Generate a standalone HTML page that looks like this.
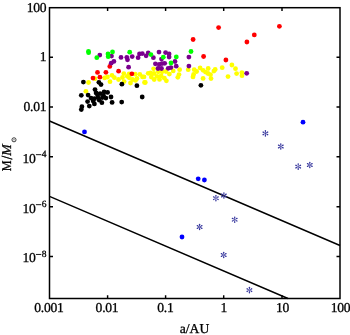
<!DOCTYPE html>
<html><head><meta charset="utf-8"><style>
html,body{margin:0;padding:0;background:#fff;width:350px;height:335px;overflow:hidden}
svg{display:block;will-change:transform;text-rendering:geometricPrecision}
svg{font-family:"Liberation Serif",serif;font-size:13.6px;letter-spacing:-0.25px}
text{stroke:#000;stroke-width:0.3px}
</style></head><body>
<svg width="350" height="335" viewBox="0 0 350 335">
<g fill="none" stroke="#000" stroke-width="1.5">
<rect x="49.5" y="7.7" width="290.5" height="290.8"/>
<path d="M107.6 298.5V295.3M107.6 7.7V10.9M165.6 298.5V295.3M165.6 7.7V10.9M223.7 298.5V295.3M223.7 7.7V10.9M282.0 298.5V295.3M282.0 7.7V10.9M49.5 57.3H53.0M340.0 57.3H336.5M49.5 107.0H53.0M340.0 107.0H336.5M49.5 156.8H53.0M340.0 156.8H336.5M49.5 206.8H53.0M340.0 206.8H336.5M49.5 256.5H53.0M340.0 256.5H336.5" stroke-width="1.45"/>
<path d="M49.5 121.0L340.0 245.50M49.5 196.3L287.97 298.5" stroke-width="1.4"/>
</g>
<circle cx="112" cy="75.3" r="2.4" fill="#ffff00"/><circle cx="114.4" cy="77.7" r="2.4" fill="#ffff00"/><circle cx="118.5" cy="79.5" r="2.4" fill="#ffff00"/><circle cx="123.8" cy="73.6" r="2.4" fill="#ffff00"/><circle cx="122.5" cy="77.5" r="2.4" fill="#ffff00"/><circle cx="127.3" cy="76.3" r="2.4" fill="#ffff00"/><circle cx="129.3" cy="77.8" r="2.4" fill="#ffff00"/><circle cx="129.1" cy="73.9" r="2.4" fill="#ffff00"/><circle cx="135.2" cy="74.2" r="2.4" fill="#ffff00"/><circle cx="137" cy="78.5" r="2.4" fill="#ffff00"/><circle cx="139.8" cy="74.3" r="2.4" fill="#ffff00"/><circle cx="142.5" cy="76.9" r="2.4" fill="#ffff00"/><circle cx="148.2" cy="73.3" r="2.4" fill="#ffff00"/><circle cx="135.5" cy="80.4" r="2.4" fill="#ffff00"/><circle cx="130.5" cy="83" r="2.4" fill="#ffff00"/><circle cx="124.1" cy="81.6" r="2.4" fill="#ffff00"/><circle cx="110" cy="81.7" r="2.4" fill="#ffff00"/><circle cx="144.5" cy="82.4" r="2.4" fill="#ffff00"/><circle cx="107.5" cy="77" r="2.4" fill="#ffff00"/><circle cx="104.6" cy="77.9" r="2.4" fill="#ffff00"/><circle cx="95" cy="78.7" r="2.4" fill="#ffff00"/><circle cx="88.5" cy="82.5" r="2.4" fill="#ffff00"/><circle cx="85.9" cy="91.3" r="2.4" fill="#ffff00"/><circle cx="153.6" cy="68.8" r="2.4" fill="#ffff00"/><circle cx="150.5" cy="72.9" r="2.4" fill="#ffff00"/><circle cx="154" cy="73.5" r="2.4" fill="#ffff00"/><circle cx="158.3" cy="71.8" r="2.4" fill="#ffff00"/><circle cx="162" cy="71.8" r="2.4" fill="#ffff00"/><circle cx="166" cy="71.5" r="2.4" fill="#ffff00"/><circle cx="169.4" cy="74.1" r="2.4" fill="#ffff00"/><circle cx="173.2" cy="70.9" r="2.4" fill="#ffff00"/><circle cx="179.6" cy="69.7" r="2.4" fill="#ffff00"/><circle cx="179" cy="74.6" r="2.4" fill="#ffff00"/><circle cx="177.8" cy="77.3" r="2.4" fill="#ffff00"/><circle cx="151.3" cy="77" r="2.4" fill="#ffff00"/><circle cx="157" cy="76.4" r="2.4" fill="#ffff00"/><circle cx="161.2" cy="75.9" r="2.4" fill="#ffff00"/><circle cx="164.4" cy="78.2" r="2.4" fill="#ffff00"/><circle cx="154.2" cy="79.5" r="2.4" fill="#ffff00"/><circle cx="159.5" cy="79.4" r="2.4" fill="#ffff00"/><circle cx="166.4" cy="80.8" r="2.4" fill="#ffff00"/><circle cx="144" cy="76.9" r="2.4" fill="#ffff00"/><circle cx="145.3" cy="82.5" r="2.4" fill="#ffff00"/><circle cx="132.5" cy="79.5" r="2.4" fill="#ffff00"/><circle cx="188.2" cy="69.7" r="2.4" fill="#ffff00"/><circle cx="194.2" cy="69.7" r="2.4" fill="#ffff00"/><circle cx="196.6" cy="71.5" r="2.4" fill="#ffff00"/><circle cx="200.1" cy="67.9" r="2.4" fill="#ffff00"/><circle cx="203.1" cy="70.3" r="2.4" fill="#ffff00"/><circle cx="205.5" cy="72.1" r="2.4" fill="#ffff00"/><circle cx="208.2" cy="68.5" r="2.4" fill="#ffff00"/><circle cx="208" cy="73.5" r="2.4" fill="#ffff00"/><circle cx="215.2" cy="69.5" r="2.4" fill="#ffff00"/><circle cx="213.9" cy="71.1" r="2.4" fill="#ffff00"/><circle cx="193.6" cy="74.5" r="2.4" fill="#ffff00"/><circle cx="193" cy="76.9" r="2.4" fill="#ffff00"/><circle cx="203.1" cy="78.4" r="2.4" fill="#ffff00"/><circle cx="211" cy="78.6" r="2.4" fill="#ffff00"/><circle cx="210.5" cy="74.7" r="2.4" fill="#ffff00"/><circle cx="222.2" cy="67.7" r="2.4" fill="#ffff00"/><circle cx="228" cy="76.6" r="2.4" fill="#ffff00"/><circle cx="231.9" cy="65" r="2.4" fill="#ffff00"/><circle cx="235.5" cy="68.7" r="2.4" fill="#ffff00"/><circle cx="236.6" cy="73.6" r="2.4" fill="#ffff00"/><circle cx="241.9" cy="72.6" r="2.4" fill="#ffff00"/><circle cx="242" cy="75.7" r="2.4" fill="#ffff00"/>
<circle cx="98.9" cy="82.3" r="2.4" fill="#000000"/><circle cx="101" cy="84.6" r="2.4" fill="#000000"/><circle cx="83.4" cy="82.1" r="2.4" fill="#000000"/><circle cx="95" cy="89.6" r="2.4" fill="#000000"/><circle cx="81.3" cy="95.3" r="2.4" fill="#000000"/><circle cx="88.1" cy="95.1" r="2.4" fill="#000000"/><circle cx="96.1" cy="93" r="2.4" fill="#000000"/><circle cx="100.1" cy="93.6" r="2.4" fill="#000000"/><circle cx="104.1" cy="91.9" r="2.4" fill="#000000"/><circle cx="107.6" cy="92.4" r="2.4" fill="#000000"/><circle cx="91" cy="98.1" r="2.4" fill="#000000"/><circle cx="94.4" cy="98.7" r="2.4" fill="#000000"/><circle cx="97.9" cy="97.6" r="2.4" fill="#000000"/><circle cx="102.4" cy="97.6" r="2.4" fill="#000000"/><circle cx="105.9" cy="98.1" r="2.4" fill="#000000"/><circle cx="111" cy="97" r="2.4" fill="#000000"/><circle cx="87.6" cy="101.6" r="2.4" fill="#000000"/><circle cx="94.4" cy="103.9" r="2.4" fill="#000000"/><circle cx="101.9" cy="102.7" r="2.4" fill="#000000"/><circle cx="112.1" cy="102.4" r="2.4" fill="#000000"/><circle cx="89.3" cy="106.1" r="2.4" fill="#000000"/><circle cx="81.9" cy="106.7" r="2.4" fill="#000000"/><circle cx="81.3" cy="109.6" r="2.4" fill="#000000"/><circle cx="93.2" cy="101.0" r="2.4" fill="#000000"/><circle cx="99.3" cy="100.2" r="2.4" fill="#000000"/><circle cx="97.5" cy="94.8" r="2.4" fill="#000000"/><circle cx="103.5" cy="95.5" r="2.4" fill="#000000"/><circle cx="121.9" cy="84.2" r="2.4" fill="#000000"/><circle cx="136.9" cy="85.7" r="2.4" fill="#000000"/><circle cx="142.2" cy="97" r="2.4" fill="#000000"/><circle cx="121.7" cy="102.1" r="2.4" fill="#000000"/><circle cx="200.9" cy="85.3" r="2.4" fill="#000000"/>
<circle cx="218.6" cy="27.6" r="2.4" fill="#ff0000"/><circle cx="279.4" cy="26.3" r="2.4" fill="#ff0000"/><circle cx="254.3" cy="34.9" r="2.4" fill="#ff0000"/><circle cx="246.9" cy="42.0" r="2.4" fill="#ff0000"/><circle cx="193.1" cy="39.5" r="2.4" fill="#ff0000"/><circle cx="203.6" cy="56.5" r="2.4" fill="#ff0000"/><circle cx="225.9" cy="60.0" r="2.4" fill="#ff0000"/><circle cx="109.8" cy="66.4" r="2.4" fill="#ff0000"/><circle cx="97.5" cy="72.4" r="2.4" fill="#ff0000"/><circle cx="105.9" cy="72.3" r="2.4" fill="#ff0000"/><circle cx="118.6" cy="71.2" r="2.4" fill="#ff0000"/><circle cx="131.9" cy="73.8" r="2.4" fill="#ff0000"/><circle cx="99.9" cy="77.2" r="2.4" fill="#ff0000"/><circle cx="93.0" cy="78.1" r="2.4" fill="#ff0000"/>
<circle cx="99.8" cy="55.1" r="2.4" fill="#7a008e"/><circle cx="111.5" cy="56.1" r="2.4" fill="#7a008e"/><circle cx="113.9" cy="61.4" r="2.4" fill="#7a008e"/><circle cx="111.2" cy="63.2" r="2.4" fill="#7a008e"/><circle cx="121.0" cy="57.4" r="2.4" fill="#7a008e"/><circle cx="126.8" cy="57.3" r="2.4" fill="#7a008e"/><circle cx="127.5" cy="59.8" r="2.4" fill="#7a008e"/><circle cx="132.2" cy="56.6" r="2.4" fill="#7a008e"/><circle cx="138.1" cy="57.7" r="2.4" fill="#7a008e"/><circle cx="139.5" cy="53.9" r="2.4" fill="#7a008e"/><circle cx="142.3" cy="53.6" r="2.4" fill="#7a008e"/><circle cx="128.6" cy="67.2" r="2.4" fill="#7a008e"/><circle cx="146.1" cy="55.8" r="2.4" fill="#7a008e"/><circle cx="148.2" cy="52.9" r="2.4" fill="#7a008e"/><circle cx="153.4" cy="57.7" r="2.4" fill="#7a008e"/><circle cx="159.0" cy="52.1" r="2.4" fill="#7a008e"/><circle cx="165.6" cy="52.6" r="2.4" fill="#7a008e"/><circle cx="169.1" cy="54.0" r="2.4" fill="#7a008e"/><circle cx="169.1" cy="57.0" r="2.4" fill="#7a008e"/><circle cx="161.5" cy="59.1" r="2.4" fill="#7a008e"/><circle cx="155.4" cy="63.8" r="2.4" fill="#7a008e"/><circle cx="159.2" cy="64.5" r="2.4" fill="#7a008e"/><circle cx="162.0" cy="63.6" r="2.4" fill="#7a008e"/><circle cx="164.7" cy="63.3" r="2.4" fill="#7a008e"/><circle cx="175.0" cy="61.5" r="2.4" fill="#7a008e"/><circle cx="176.2" cy="66.2" r="2.4" fill="#7a008e"/><circle cx="158.0" cy="68.5" r="2.4" fill="#7a008e"/><circle cx="161.5" cy="68.5" r="2.4" fill="#7a008e"/><circle cx="168.2" cy="68.3" r="2.4" fill="#7a008e"/><circle cx="170.9" cy="67.6" r="2.4" fill="#7a008e"/><circle cx="188.9" cy="57.1" r="2.4" fill="#7a008e"/><circle cx="188.9" cy="66.1" r="2.4" fill="#7a008e"/><circle cx="246.7" cy="73.3" r="2.4" fill="#7a008e"/>
<circle cx="88.5" cy="51.3" r="2.4" fill="#00ff00"/><circle cx="88.6" cy="52.7" r="2.4" fill="#00ff00"/><circle cx="96.8" cy="57.7" r="2.4" fill="#00ff00"/><circle cx="108.0" cy="54.0" r="2.4" fill="#00ff00"/><circle cx="108.2" cy="56.7" r="2.4" fill="#00ff00"/><circle cx="112.5" cy="51.9" r="2.4" fill="#00ff00"/><circle cx="129.7" cy="52.2" r="2.4" fill="#00ff00"/><circle cx="150.9" cy="54.6" r="2.4" fill="#00ff00"/><circle cx="163.3" cy="57.2" r="2.4" fill="#00ff00"/><circle cx="176.3" cy="56.9" r="2.4" fill="#00ff00"/><circle cx="171.0" cy="63.0" r="2.4" fill="#00ff00"/><circle cx="191.0" cy="51.5" r="2.4" fill="#00ff00"/>
<circle cx="84.5" cy="131.9" r="2.4" fill="#0000ff"/><circle cx="303.0" cy="122.2" r="2.4" fill="#0000ff"/><circle cx="198.2" cy="178.8" r="2.4" fill="#0000ff"/><circle cx="204.4" cy="180" r="2.4" fill="#0000ff"/><circle cx="182" cy="237" r="2.4" fill="#0000ff"/>
<defs><path id="pt" d="M-0.2 -0.5L-0.72 -2.6A0.72 0.72 0 0 1 0.72 -2.6L0.2 -0.5Z"/><g id="as" fill="#34349c"><use href="#pt"/><use href="#pt" transform="rotate(60)"/><use href="#pt" transform="rotate(120)"/><use href="#pt" transform="rotate(180)"/><use href="#pt" transform="rotate(240)"/><use href="#pt" transform="rotate(300)"/><circle r="0.6"/></g></defs>
<use href="#as" x="265.4" y="133.4"/><use href="#as" x="280.8" y="146.5"/><use href="#as" x="298.2" y="166.6"/><use href="#as" x="309.8" y="165"/><use href="#as" x="215.9" y="198.2"/><use href="#as" x="223.9" y="195.5"/><use href="#as" x="234.7" y="219.7"/><use href="#as" x="199.6" y="227"/><use href="#as" x="223.7" y="255"/><use href="#as" x="249.4" y="290.1"/>
<text x="46.3" y="11.8" text-anchor="end">100</text><text x="46.3" y="61.3" text-anchor="end">1</text><text x="46.3" y="111.1" text-anchor="end">0.01</text><text x="35.6" y="162.70" text-anchor="end">10</text><rect x="35.9" y="154.25" width="5.4" height="0.9" fill="#000"/><text x="46.3" y="157.30" text-anchor="end" font-size="9.5">4</text><text x="35.6" y="212.70" text-anchor="end">10</text><rect x="35.9" y="204.25" width="5.4" height="0.9" fill="#000"/><text x="46.3" y="207.30" text-anchor="end" font-size="9.5">6</text><text x="35.6" y="262.40" text-anchor="end">10</text><rect x="35.9" y="253.95" width="5.4" height="0.9" fill="#000"/><text x="46.3" y="257.00" text-anchor="end" font-size="9.5">8</text>
<text x="48.9" y="312.1" text-anchor="middle">0.001</text><text x="107.0" y="312.1" text-anchor="middle">0.01</text><text x="165.4" y="312.1" text-anchor="middle">0.1</text><text x="223.7" y="312.1" text-anchor="middle">1</text><text x="282.5" y="312.1" text-anchor="middle">10</text><text x="340.5" y="312.1" text-anchor="middle">100</text>
<text x="194.5" y="332.8" text-anchor="middle" font-size="13.6" letter-spacing="0">a/AU</text>
<g font-size="13.5" letter-spacing="0">
<text transform="translate(11.2,171.3) rotate(-90) scale(0.9,1)">M</text>
<text transform="translate(11.9,159.6) rotate(-90) scale(1,1.15)">/</text>
<text transform="translate(11.2,155.8) rotate(-90) scale(1.02,1)" font-style="italic">M</text>
<circle cx="14" cy="139.8" r="2.05" fill="none" stroke="#000" stroke-width="0.75"/><circle cx="14" cy="139.8" r="0.55" fill="#000"/>
</g>
</svg>
</body></html>
